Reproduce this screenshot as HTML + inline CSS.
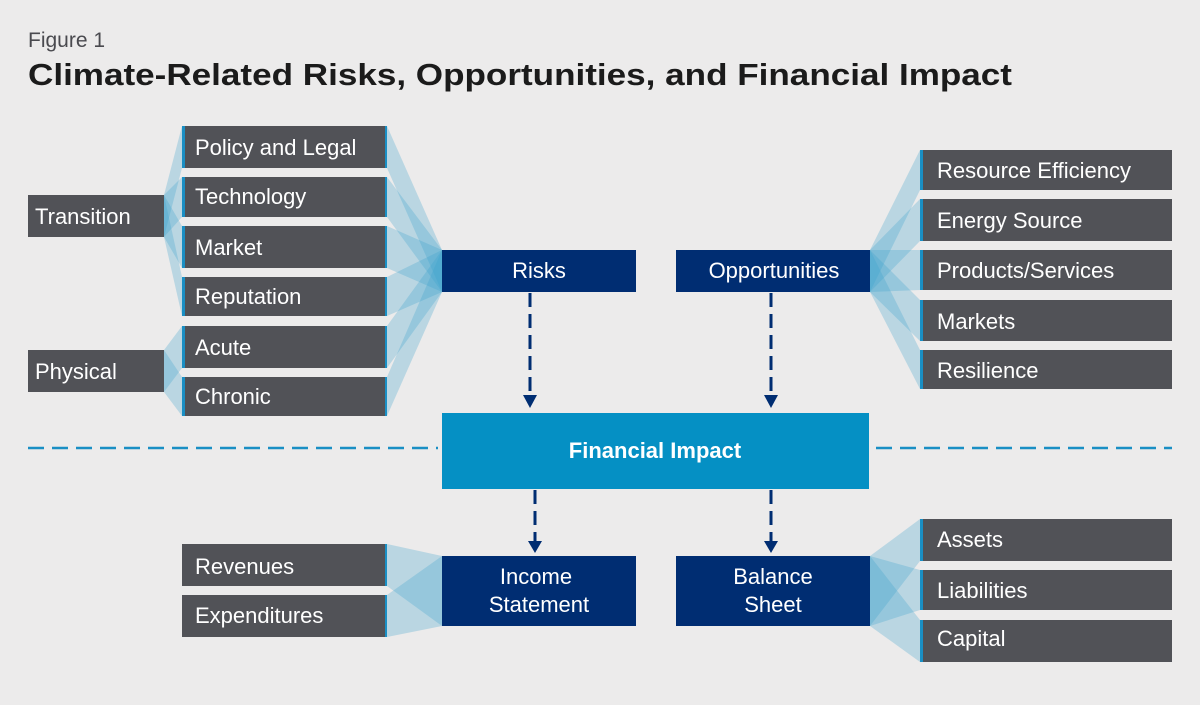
<!DOCTYPE html>
<html><head><meta charset="utf-8"><style>
html,body{margin:0;padding:0;background:#ecebeb;}
svg{display:block;font-family:"Liberation Sans",sans-serif;}
</style></head><body>
<svg width="1200" height="705" viewBox="0 0 1200 705" xmlns="http://www.w3.org/2000/svg">
<rect width="1200" height="705" fill="#ecebeb"/>
<text x="28" y="47" font-size="21" fill="#4a4a4f">Figure 1</text>
<text x="28" y="85" font-size="31" font-weight="bold" fill="#1b1b1b" textLength="984" lengthAdjust="spacingAndGlyphs">Climate-Related Risks, Opportunities, and Financial Impact</text>

<g fill="#3ba3cc" fill-opacity="0.28">
<!-- Transition to middle -->
<polygon points="164,195 182,126 182,168 164,237"/>
<polygon points="164,195 182,177 182,217 164,237"/>
<polygon points="164,195 182,226 182,268 164,237"/>
<polygon points="164,195 182,277 182,316 164,237"/>
<polygon points="164,350 182,326 182,368 164,392"/>
<polygon points="164,350 182,377 182,416 164,392"/>
<!-- middle to risks -->
<polygon points="387,126 442,250 442,292 387,168"/>
<polygon points="387,177 442,250 442,292 387,217"/>
<polygon points="387,226 442,250 442,292 387,268"/>
<polygon points="387,277 442,250 442,292 387,316"/>
<polygon points="387,326 442,250 442,292 387,368"/>
<polygon points="387,377 442,250 442,292 387,416"/>
<!-- opportunities to right -->
<polygon points="870,250 920,150 920,190 870,292"/>
<polygon points="870,250 920,199 920,241 870,292"/>
<polygon points="870,250 920,250 920,290 870,292"/>
<polygon points="870,250 920,300 920,341 870,292"/>
<polygon points="870,250 920,350 920,389 870,292"/>
<!-- revenues -->
<polygon points="387,544 442,556 442,626 387,586"/>
<polygon points="387,595 442,556 442,626 387,637"/>
<!-- balance -->
<polygon points="870,556 920,519 920,561 870,626"/>
<polygon points="870,556 920,570 920,610 870,626"/>
<polygon points="870,556 920,620 920,662 870,626"/>
</g>

<g fill="#515257">
<rect x="28" y="195" width="136" height="42"/>
<rect x="28" y="350" width="136" height="42"/>
<rect x="182" y="126" width="205" height="42"/>
<rect x="182" y="177" width="205" height="40"/>
<rect x="182" y="226" width="205" height="42"/>
<rect x="182" y="277" width="205" height="39"/>
<rect x="182" y="326" width="205" height="42"/>
<rect x="182" y="377" width="205" height="39"/>
<rect x="920" y="150" width="252" height="40"/>
<rect x="920" y="199" width="252" height="42"/>
<rect x="920" y="250" width="252" height="40"/>
<rect x="920" y="300" width="252" height="41"/>
<rect x="920" y="350" width="252" height="39"/>
<rect x="182" y="544" width="205" height="42"/>
<rect x="182" y="595" width="205" height="42"/>
<rect x="920" y="519" width="252" height="42"/>
<rect x="920" y="570" width="252" height="40"/>
<rect x="920" y="620" width="252" height="42"/>
</g>
<g fill="#1a8fc4">
<rect x="182" y="126" width="3" height="42"/><rect x="385" y="126" width="2" height="42"/>
<rect x="182" y="177" width="3" height="40"/><rect x="385" y="177" width="2" height="40"/>
<rect x="182" y="226" width="3" height="42"/><rect x="385" y="226" width="2" height="42"/>
<rect x="182" y="277" width="3" height="39"/><rect x="385" y="277" width="2" height="39"/>
<rect x="182" y="326" width="3" height="42"/><rect x="385" y="326" width="2" height="42"/>
<rect x="182" y="377" width="3" height="39"/><rect x="385" y="377" width="2" height="39"/>
<rect x="920" y="150" width="3" height="40"/><rect x="920" y="199" width="3" height="42"/>
<rect x="920" y="250" width="3" height="40"/><rect x="920" y="300" width="3" height="41"/>
<rect x="920" y="350" width="3" height="39"/>
<rect x="385" y="544" width="2" height="42"/><rect x="385" y="595" width="2" height="42"/>
<rect x="920" y="519" width="3" height="42"/><rect x="920" y="570" width="3" height="40"/><rect x="920" y="620" width="3" height="42"/>
</g>

<g fill="#002d72">
<rect x="442" y="250" width="194" height="42"/>
<rect x="676" y="250" width="194" height="42"/>
<rect x="442" y="556" width="194" height="70"/>
<rect x="676" y="556" width="194" height="70"/>
</g>
<rect x="442" y="413" width="427" height="76" fill="#0590c4"/>

<g stroke="#1a8fc4" stroke-width="2.5" stroke-dasharray="16,8">
<line x1="28" y1="448" x2="438" y2="448"/>
<line x1="876" y1="448" x2="1172" y2="448"/>
</g>
<g stroke="#002d72" stroke-width="3" stroke-dasharray="14,7">
<line x1="530" y1="293" x2="530" y2="396"/>
<line x1="771" y1="293" x2="771" y2="396"/>
<line x1="535" y1="490" x2="535" y2="542"/>
<line x1="771" y1="490" x2="771" y2="542"/>
</g>
<g fill="#002d72">
<polygon points="523,395 537,395 530,408"/>
<polygon points="764,395 778,395 771,408"/>
<polygon points="528,541 542,541 535,553"/>
<polygon points="764,541 778,541 771,553"/>
</g>

<g font-size="22" fill="#ffffff">
<text x="35" y="224">Transition</text>
<text x="35" y="379">Physical</text>
<text x="195" y="155">Policy and Legal</text>
<text x="195" y="204">Technology</text>
<text x="195" y="255">Market</text>
<text x="195" y="304">Reputation</text>
<text x="195" y="355">Acute</text>
<text x="195" y="404">Chronic</text>
<text x="937" y="178">Resource Efficiency</text>
<text x="937" y="228">Energy Source</text>
<text x="937" y="278">Products/Services</text>
<text x="937" y="329">Markets</text>
<text x="937" y="378">Resilience</text>
<text x="195" y="574">Revenues</text>
<text x="195" y="623">Expenditures</text>
<text x="937" y="547">Assets</text>
<text x="937" y="598">Liabilities</text>
<text x="937" y="646">Capital</text>
<g text-anchor="middle">
<text x="539" y="278">Risks</text>
<text x="774" y="278">Opportunities</text>
<text x="536" y="584">Income</text>
<text x="539" y="612">Statement</text>
<text x="773" y="584">Balance</text>
<text x="773" y="612">Sheet</text>
<text x="655" y="458" font-weight="bold">Financial Impact</text>
</g>
</g>
</svg>
</body></html>
